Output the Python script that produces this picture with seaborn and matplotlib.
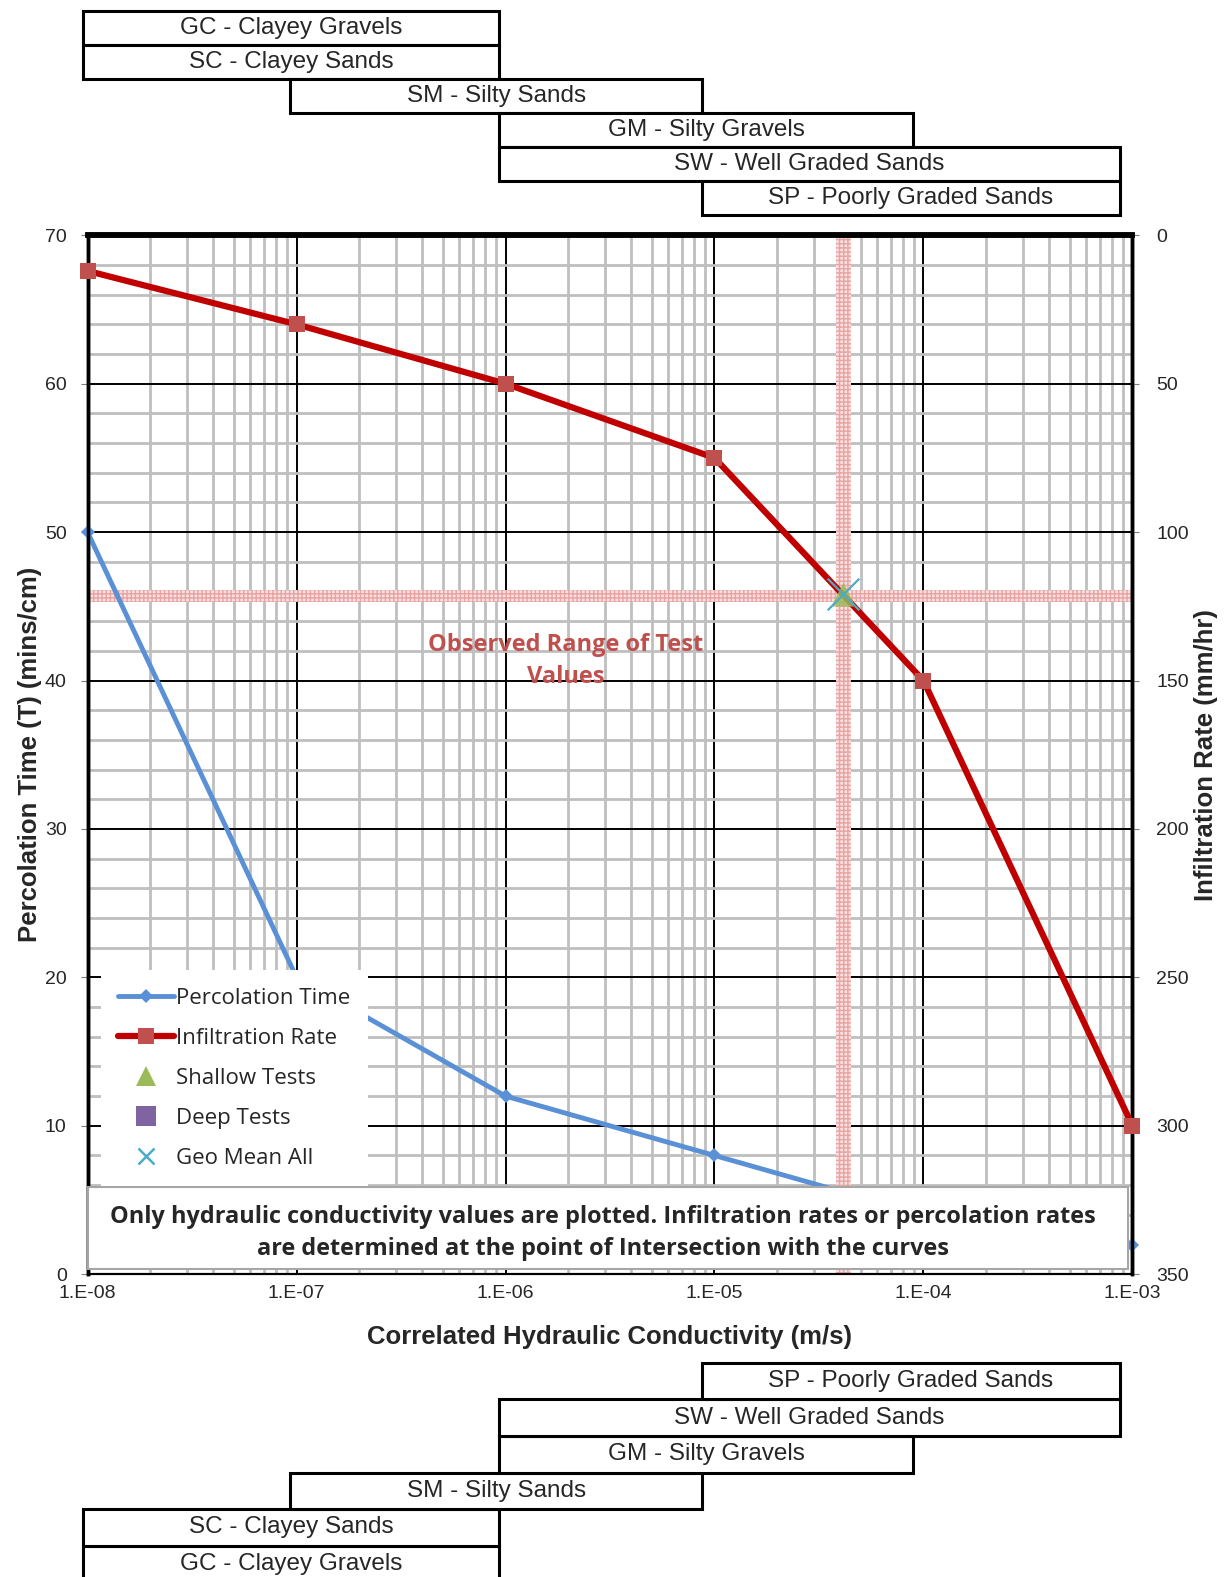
import numpy as np
import matplotlib
matplotlib.use("Agg")
import matplotlib.pyplot as plt
import matplotlib.ticker as mticker
from matplotlib.lines import Line2D
from matplotlib.patches import Rectangle
from matplotlib.transforms import blended_transform_factory
import seaborn as sns

# curve points: hydraulic conductivity (m/s)
k_values = [1e-8, 1e-7, 1e-6, 1e-5, 1e-4, 1e-3]
perc_time = [50, 20, 12, 8, 4, 2]            # mins/cm (left axis)
infil_rate = [12, 30, 50, 75, 150, 300]      # mm/hr (right axis)

# observed range of tests
obs_k_range = [3.8e-5, 4.5e-5]
obs_t_range = [45.3, 46.1]
shallow_k = [4.1e-5]
shallow_rate = [121]
geo_mean_k = [4.1e-5]
geo_mean_rate = [121]

# soil classification bars, log10(K) extents
soil_labels = ["GC - Clayey Gravels", "SC - Clayey Sands", "SM - Silty Sands",
               "GM - Silty Gravels", "SW - Well Graded Sands", "SP - Poorly Graded Sands"]
soil_lo = [-8.02, -8.02, -7.03, -6.03, -6.03, -5.06]
soil_hi = [-6.03, -6.03, -5.06, -4.05, -3.06, -3.06]

xticks = [1e-8, 1e-7, 1e-6, 1e-5, 1e-4, 1e-3]
left_ticks = list(range(0, 71, 10))
right_ticks = list(range(0, 351, 50))

sns.set_style("white")
plt.rcParams["font.family"] = ["Liberation Sans", "DejaVu Sans"]
body_font = ["Open Sans", "DejaVu Sans"]

W, H = 1226, 1577
fig = plt.figure(figsize=(W / 100, H / 100), dpi=100)
ax = fig.add_axes([0.0714, 0.1920, 0.8523, 0.6588])
ax2 = ax.twinx()

ax.set_xscale("log")
ax.set_xlim(1e-8, 1e-3)
ax.set_ylim(0, 70)
ax2.set_ylim(350, 0)

# grid
ax.yaxis.set_minor_locator(mticker.MultipleLocator(2))
ax.xaxis.set_minor_locator(mticker.LogLocator(base=10, subs=np.arange(2, 10)))
ax.grid(which="minor", color="#BFBFBF", lw=2, zorder=0)
ax.grid(which="major", color="black", lw=1.4, zorder=0.5)
ax.set_axisbelow(True)

# observed range bands
ax.axvspan(obs_k_range[0], obs_k_range[1], facecolor="#F9E0E0", edgecolor="#E8A3A3",
           hatch="++++", lw=0, zorder=1)
ax.axhspan(obs_t_range[0], obs_t_range[1], facecolor="#F9E0E0", edgecolor="#E8A3A3",
           hatch="++++", lw=0, zorder=1)

sns.lineplot(x=k_values, y=perc_time, ax=ax, color="#5A90D6", lw=3.5,
             marker="D", markersize=7, markeredgewidth=0, label="Percolation Time",
             legend=False, zorder=3, clip_on=False)
sns.lineplot(x=k_values, y=infil_rate, ax=ax2, color="#C00000", lw=4.5,
             marker="s", markersize=11, markerfacecolor="#C0504D", markeredgewidth=0,
             label="Infiltration Rate", legend=False, zorder=3, clip_on=False)
ax2.scatter(shallow_k, shallow_rate, marker="^", s=300, color="#9BBB59", alpha=0.85,
            lw=0, zorder=4, label="Shallow Tests")
ax2.scatter(geo_mean_k, geo_mean_rate, marker="x", s=520, color="#4BACC6", lw=1.6,
            zorder=5, label="Geo Mean All")

ax2.text(10 ** -5.71, 143.5, "Observed Range of Test\nValues", ha="center", va="center",
         color="#C0504D", fontsize=17, fontweight="bold", family=body_font,
         linespacing=1.45, zorder=6)

# ticks
ax.set_xticks(xticks)
ax.xaxis.set_major_formatter(mticker.FuncFormatter(
    lambda v, p: "1.E-%02d" % round(-np.log10(v))))
ax.set_yticks(left_ticks)
ax2.set_yticks(right_ticks)
ax.tick_params(axis="x", which="major", labelsize=14, length=0, pad=8)
ax.tick_params(axis="x", which="minor", length=0)
ax.tick_params(axis="y", which="major", labelsize=14, length=5, color="#808080", pad=10)
ax.tick_params(axis="y", which="minor", length=0)
ax2.tick_params(axis="y", labelsize=14, length=5, color="#808080", pad=12)
ax2.grid(False)

for a in (ax, ax2):
    for s in a.spines.values():
        s.set_color("black")
    a.spines["top"].set_linewidth(4)
    a.spines["left"].set_linewidth(2.5)
    a.spines["right"].set_linewidth(2.5)
    a.spines["bottom"].set_linewidth(1.5)

ax.set_xlabel("Correlated Hydraulic Conductivity (m/s)", fontsize=18.5,
              fontweight="bold", labelpad=16)
ax.set_ylabel("Percolation Time (T) (mins/cm)", fontsize=18.5, fontweight="bold",
              labelpad=2)
ax2.set_ylabel("Infiltration Rate (mm/hr)", fontsize=18.5, fontweight="bold", labelpad=4)

# legend
handles = [
    ax.get_lines()[-1],
    ax2.get_lines()[0],
    Line2D([], [], ls="none", marker="^", markersize=14, color="#9BBB59", markeredgewidth=0),
    Line2D([], [], ls="none", marker="s", markersize=14, color="#8064A2", markeredgewidth=0),
    Line2D([], [], ls="none", marker="x", markersize=12, color="#4BACC6", markeredgewidth=1.8),
]
labels = ["Percolation Time", "Infiltration Rate", "Shallow Tests", "Deep Tests", "Geo Mean All"]
leg = ax2.legend(handles, labels, loc="lower left", bbox_to_anchor=(0.0125, 0.084),
                 frameon=True, fancybox=False, edgecolor="white", framealpha=1,
                 prop={"family": body_font, "size": 16},
                 handlelength=2.5, handletextpad=0.1, labelspacing=0.86,
                 borderpad=0.8, borderaxespad=0)
leg.set_zorder(8)
leg.get_frame().set_linewidth(0)

# note box
ax2.add_patch(Rectangle((0, 0.005), 0.996, 0.079, transform=ax2.transAxes,
                        facecolor="white", edgecolor="#A6A6A6", lw=1.5, zorder=9,
                        clip_on=False))
ax2.text(0.4935, 0.0400,
         "Only hydraulic conductivity values are plotted. Infiltration rates or percolation rates\n"
         "are determined at the point of Intersection with the curves",
         transform=ax2.transAxes, ha="center", va="center", fontsize=16.9,
         fontweight="bold", family=body_font, linespacing=1.45, zorder=10)

# soil classification bars above and below the chart
tr = blended_transform_factory(ax.transData, fig.transFigure)
top_y0, top_h = 11.1, 34.0
bot_y0, bot_h = 1362.8, 36.6
n = len(soil_labels)
for i, (lab, lo, hi) in enumerate(zip(soil_labels, soil_lo, soil_hi)):
    rows = [(top_y0 + i * top_h, top_h), (bot_y0 + (n - 1 - i) * bot_h, bot_h)]
    for ytop, h in rows:
        y0 = 1 - (ytop + h) / H
        fig.add_artist(Rectangle((10 ** lo, y0), 10 ** hi - 10 ** lo, h / H, transform=tr,
                                 facecolor="white", edgecolor="black", lw=2.2,
                                 clip_on=False))
        mid = 10 ** ((lo + hi) / 2)
        fig.text(mid, y0 + h / H / 2, lab, transform=tr, ha="center", va="center",
                 fontsize=17.5)

fig.savefig("out.png", dpi=100)
